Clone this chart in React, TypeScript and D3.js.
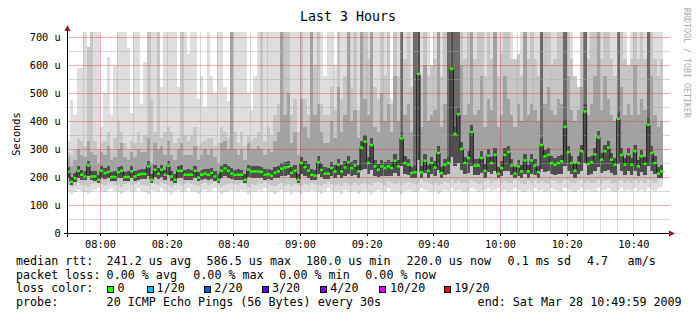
import React from "react";
import * as d3 from "d3";

// median rtt per minute (us), 07:50 .. 10:49
const med = [
  218,183,196,222,208,202,241,202,202,190,
  222,214,218,200,200,217,222,200,200,220,
  202,208,211,211,238,190,226,212,226,208,
  240,202,190,222,222,208,208,208,222,198,
  208,212,208,214,202,190,222,230,222,212,
  208,208,208,190,226,220,220,220,218,208,
  210,205,215,220,230,234,236,215,222,190,
  250,235,223,208,205,253,225,212,212,232,
  220,244,220,234,253,232,241,220,305,326,
  250,314,238,226,238,232,238,232,258,238,
  338,250,244,214,217,568,217,258,222,250,
  234,286,214,244,250,586,354,424,300,250,
  268,360,241,241,268,222,276,250,279,212,
  232,279,289,241,212,238,220,259,220,259,
  241,217,314,274,279,250,244,250,256,379,
  289,250,222,250,292,434,247,253,281,341,
  262,292,305,262,244,408,279,244,281,244,
  292,238,274,247,387,286,250,212,220,
];
// smoke: lowest ping
const lo = [
  150,140,145,155,150,145,140,150,155,160,
  150,145,155,160,150,145,140,150,155,145,
  150,160,150,145,140,155,150,145,160,150,
  145,140,150,155,145,150,160,150,145,140,
  150,155,145,150,160,150,140,145,150,155,
  150,145,155,150,140,150,145,155,150,160,
  150,145,140,150,155,145,150,140,150,145,
  140,150,145,155,150,145,140,150,160,150,
  145,150,140,155,150,145,150,140,145,150,
  145,140,150,155,150,145,160,150,145,150,
  140,150,155,150,145,150,160,155,150,145,
  150,140,145,155,150,160,150,155,150,145,
  150,160,155,145,150,155,160,150,155,160,
  150,155,145,150,160,155,150,145,155,150,
  160,150,155,145,150,160,155,150,145,160,
  155,150,145,155,160,150,155,150,145,160,
  150,155,160,150,145,155,160,150,155,150,
  160,150,155,150,160,155,150,160,165,
];
// smoke: lower outer band
const dn = [
  172,165,168,178,172,170,165,175,178,180,
  175,170,178,182,172,170,165,175,178,170,
  175,182,172,170,168,178,175,170,182,175,
  170,165,172,178,170,175,182,175,170,168,
  175,178,170,175,182,172,165,170,175,178,
  175,170,178,175,165,175,170,178,175,182,
  175,170,168,175,178,170,175,168,175,170,
  168,175,170,178,175,170,168,175,182,175,
  170,175,168,178,175,172,178,170,175,180,
  175,170,178,182,178,172,185,178,175,178,
  170,178,182,178,175,178,188,182,178,175,
  180,172,175,182,178,188,180,185,180,178,
  180,188,182,175,180,185,188,180,185,188,
  180,185,178,180,188,185,180,175,185,180,
  188,180,185,178,180,188,185,180,178,188,
  185,180,178,185,188,180,185,180,178,188,
  180,185,188,180,178,185,188,180,185,180,
  188,180,185,180,188,185,180,188,192,
];
// smoke: bottom of dark core
const q1 = [
  195,172,182,198,190,188,205,188,186,178,
  198,192,195,185,184,195,198,186,185,196,
  186,190,192,192,205,178,200,192,200,190,
  208,186,178,198,198,190,190,190,198,184,
  190,192,190,194,186,178,198,202,198,192,
  190,190,190,178,200,196,196,196,195,190,
  192,188,195,196,202,204,206,195,198,178,
  212,205,198,190,188,212,200,192,192,202,
  196,208,196,204,212,202,206,196,225,230,
  210,225,204,200,204,202,204,202,214,204,
  240,210,208,195,196,260,196,214,198,210,
  204,225,195,208,210,270,240,250,225,210,
  215,240,206,206,215,198,218,210,220,195,
  202,220,222,206,195,204,198,212,198,212,
  206,196,230,218,220,210,208,210,212,240,
  222,210,198,210,222,250,208,212,220,235,
  214,222,225,214,208,245,220,208,220,208,
  222,204,218,208,240,222,210,195,198,
];
// smoke: top of dark core
const q3 = [
  236,200,214,240,226,222,258,220,222,208,
  240,232,238,218,220,236,240,218,220,238,
  222,226,230,230,256,210,244,232,244,226,
  258,222,210,240,242,226,228,226,240,218,
  226,230,228,232,222,210,240,248,240,232,
  226,228,226,210,244,238,240,238,236,228,
  230,225,235,240,250,254,256,235,242,212,
  272,256,245,230,226,275,246,234,232,254,
  242,266,242,256,276,254,262,242,330,350,
  272,338,260,248,262,254,260,254,282,260,
  362,274,266,236,240,720,240,282,244,272,
  256,310,236,266,272,720,380,450,325,272,
  292,385,264,264,292,246,300,272,302,236,
  256,302,312,264,236,260,244,282,244,282,
  264,240,338,298,302,274,268,274,280,405,
  312,274,246,274,316,460,270,276,304,365,
  286,316,330,286,268,432,302,268,304,268,
  316,262,298,270,412,310,274,236,244,
];
// smoke: top of dark streak above the core
const dk = [
  236,200,214,240,226,222,258,220,222,208,
  240,232,238,218,220,236,240,218,220,238,
  222,226,230,230,256,210,244,232,244,226,
  258,222,210,240,242,226,228,226,240,218,
  226,230,228,232,222,210,240,248,240,232,
  226,228,226,210,244,238,240,238,236,228,
  230,225,235,240,250,254,256,235,242,212,
  272,256,245,230,226,275,246,234,232,254,
  242,266,242,256,276,254,262,242,330,350,
  272,338,260,248,262,254,260,254,282,260,
  720,274,266,236,720,720,240,282,244,272,
  256,310,236,266,720,720,720,720,325,272,
  292,385,264,264,292,246,300,272,302,236,
  256,302,312,264,236,260,244,282,244,282,
  264,240,720,298,302,274,268,274,280,720,
  312,274,246,274,316,720,270,276,304,365,
  286,316,330,286,268,720,302,268,304,268,
  316,262,298,270,720,310,274,236,244,
];
// smoke: top of middle band
const mid = [
  270,240,260,300,280,270,330,290,280,250,
  290,280,310,260,270,300,320,270,260,290,
  270,300,290,290,340,250,320,300,310,280,
  330,280,260,300,320,280,280,280,310,260,
  280,300,280,300,270,250,320,330,300,720,
  300,280,300,260,320,300,300,310,300,280,
  300,290,330,360,720,420,500,320,360,280,
  480,380,340,720,420,460,360,320,320,400,
  340,520,360,420,720,400,440,340,720,480,
  420,720,380,360,500,400,460,360,560,400,
  720,420,460,360,720,720,380,600,400,420,
  440,720,380,460,720,720,720,720,600,420,
  460,720,420,440,560,380,480,440,720,380,
  420,560,480,420,380,460,400,720,420,460,
  440,400,720,460,520,440,420,480,460,720,
  560,440,400,440,520,720,420,460,560,720,
  440,560,480,420,400,720,520,420,460,420,
  600,420,480,440,720,560,420,380,400,
];
// smoke: upper outer band
const up = [
  290,280,300,340,330,310,665,720,330,300,
  320,330,360,300,340,400,360,320,300,330,
  320,360,320,350,720,480,360,720,340,360,
  380,360,320,340,720,350,330,350,380,310,
  320,330,340,340,310,320,380,360,340,720,
  360,320,360,310,350,330,340,360,720,330,
  380,350,420,460,720,720,720,420,480,360,
  720,480,420,720,600,720,460,420,420,520,
  440,720,480,560,720,520,720,440,720,720,
  620,720,520,480,720,560,720,460,720,560,
  720,620,720,520,720,720,560,720,560,600,
  620,720,560,720,720,720,720,720,720,620,
  720,720,620,720,720,560,720,620,720,560,
  640,720,720,620,620,640,560,720,620,720,
  620,560,720,720,720,600,620,720,720,720,
  720,620,560,520,720,720,620,720,720,720,
  620,720,720,620,560,720,720,620,600,620,
  720,620,720,620,720,720,620,560,620,
];
// smoke: highest ping
const hi = [
  330,475,420,590,590,720,665,720,720,720,
  380,500,630,420,595,720,720,720,660,430,
  720,720,460,610,720,720,720,720,520,720,
  720,720,720,520,720,720,640,720,720,480,
  560,450,720,560,500,720,720,520,470,720,
  720,720,720,720,500,440,560,720,720,720,
  720,720,720,720,720,720,720,720,720,720,
  720,720,720,720,720,720,720,560,720,720,
  600,720,720,720,720,720,720,720,720,720,
  720,720,720,720,720,720,720,480,720,720,
  720,720,720,720,720,720,720,720,720,600,
  720,720,720,720,720,720,720,720,720,720,
  720,720,720,720,720,720,720,720,720,720,
  720,720,720,720,620,640,720,720,720,720,
  720,720,720,720,720,720,720,720,720,720,
  720,720,560,520,720,720,720,720,720,720,
  720,720,720,720,720,720,720,720,600,720,
  720,720,720,720,720,720,720,720,720,
];

const title = "Last 3 Hours";
const yAxisTitle = "Seconds";
const watermark = "RRDTOOL / TOBI OETIKER";
const xTickLabels = ["08:00", "08:20", "08:40", "09:00", "09:20", "09:40", "10:00", "10:20", "10:40"];
const yTickValues = [0, 100, 200, 300, 400, 500, 600, 700];
const yTickLabels = ["0", "100 u", "200 u", "300 u", "400 u", "500 u", "600 u", "700 u"];
const rttLegend = ["median rtt:", "241.2 us avg", "586.5 us max", "180.0 us min", "220.0 us now", "0.1 ms sd", "4.7", "am/s"];
const lossLegend = ["packet loss:", "0.00 % avg", "0.00 % max", "0.00 % min", "0.00 % now"];
const lossColorTitle = "loss color:";
const lossLabels = ["0", "1/20", "2/20", "3/20", "4/20", "10/20", "19/20"];
const lossColors = ["#26ff00", "#00b8ff", "#0059ff", "#5e00ff", "#7e00ff", "#dd00ff", "#ff0000"];
const probeLegend = ["probe:", "20 ICMP Echo Pings (56 Bytes) every 30s", "end: Sat Mar 28 10:49:59 2009"];

const FONT = "DejaVu Sans Mono, monospace";

export default function App() {
  const W = 697, H = 321;
  const day = (h: number, m: number) => new Date(2009, 2, 28, h, m);
  const t0 = day(7, 50), t1 = day(10, 50);
  const x = d3.scaleTime().domain([t0, t1]).range([66.67, 666.67]);
  const y = d3.scaleLinear().domain([0, 700]).range([233, 37]);
  const times = med.map((_, i) => d3.timeMinute.offset(t0, i));
  const xs = (i: number) => x(d3.timeMinute.offset(t0, i));

  const bands: [number[], number[], string][] = [
    [lo, hi, "#dedede"],
    [dn, up, "#c6c6c6"],
    [q1, mid, "#a2a2a2"],
    [q1, dk, "#6c6c6c"],
    [q1, q3, "#4e4e4e"],
  ];

  const minorV = d3.timeMinute.every(5)!.range(d3.timeMinute.offset(t0, 1), t1).filter((d) => d.getMinutes() !== 0);
  const majorV = d3.timeHour.range(t0, t1);
  const minorH = d3.range(50, 701, 100);
  const majorH = d3.range(100, 701, 100);

  const stepLine = d3.line<number>()
    .x((_, i) => xs(i))
    .y((d) => y(d))
    .curve(d3.curveStepAfter);
  const stepData = [...med, med[med.length - 1]];

  const rttX = [16, 106.6, 206.6, 306, 406.6, 507.6, 587, 627.6];
  const lossX = [16, 106.6, 193.3, 279.3, 365.3];
  const sqX = [107.3, 146.7, 204, 261.7, 320, 379.3, 444];
  const lblX = [117.6, 156.6, 214.3, 272, 330.3, 390, 454.3];
  const probeX = [16, 106.6, 477.6];
  const lf = 11.7;

  return (
    <svg width={W} height={H} style={{ position: "absolute", left: 0, top: 0, background: "#fff" }}>
      <rect x={0} y={0} width={W} height={H} fill="#ffffff" />
      <defs>
        <clipPath id="plot">
          <rect x={67} y={32} width={600} height={201} />
        </clipPath>
      </defs>
      <g clipPath="url(#plot)" shapeRendering="crispEdges">
        {bands.map(([b, t, c], bi) => (
          <g key={bi} fill={c}>
            {times.map((tm, i) => {
              const x0 = xs(i), x1 = xs(i + 1);
              const yt = y(t[i]), yb = y(b[i]);
              if (yb - yt <= 0) return null;
              return <rect key={i} x={x0} y={yt} width={x1 - x0} height={yb - yt} />;
            })}
          </g>
        ))}
      </g>
      {/* grid */}
      <g shapeRendering="crispEdges">
        {minorH.map((v) => (
          <line key={"mh" + v} x1={67} x2={670} y1={Math.round(y(v)) + 0.5} y2={Math.round(y(v)) + 0.5} stroke="rgba(170,170,170,0.45)" />
        ))}
        {minorV.map((d, i) => (
          <line key={"mv" + i} x1={Math.round(x(d)) + 0.5} x2={Math.round(x(d)) + 0.5} y1={32} y2={233} stroke="rgba(170,170,170,0.45)" />
        ))}
        {majorH.map((v) => (
          <line key={"Mh" + v} x1={67} x2={670} y1={Math.round(y(v)) + 0.5} y2={Math.round(y(v)) + 0.5} stroke="rgba(220,50,50,0.38)" />
        ))}
        {majorV.map((d, i) => (
          <line key={"Mv" + i} x1={Math.round(x(d)) + 0.5} x2={Math.round(x(d)) + 0.5} y1={32} y2={233} stroke="rgba(220,50,50,0.38)" />
        ))}
      </g>
      {/* median */}
      <g clipPath="url(#plot)">
        <path d={stepLine(stepData) || ""} fill="none" stroke="#1a1a1a" strokeWidth={1} />
        {med.map((v, i) => (
          <rect key={i} x={xs(i)} y={y(v) - 1.25} width={xs(i + 1) - xs(i)} height={2.5} fill={lossColors[0]} />
        ))}
      </g>
      {/* axes */}
      <g shapeRendering="crispEdges">
        <line x1={64} x2={670} y1={233.5} y2={233.5} stroke="#000" />
        <line x1={67.5} x2={67.5} y1={29} y2={237} stroke="#000" />
        {xTickLabels.map((l, i) => {
          const [h, m] = l.split(":").map(Number);
          const px = Math.round(x(day(h, m))) + 0.5;
          return <line key={i} x1={px} x2={px} y1={233} y2={236} stroke="#000" />;
        })}
      </g>
      <path d="M67.5,25 L64.5,31 L70.5,31 Z" fill="#a01818" />
      <path d="M675,233.5 L669,230.5 L669,236.5 Z" fill="#a01818" />
      {/* y labels */}
      {yTickValues.map((v, i) => (
        <text key={i} x={60.7} y={y(v) + 3.7} textAnchor="end" fontFamily={FONT} fontSize={10.3} fill="#000">
          {yTickLabels[i]}
        </text>
      ))}
      {/* x labels */}
      {xTickLabels.map((l, i) => {
        const [h, m] = l.split(":").map(Number);
        return (
          <text key={i} x={x(day(h, m)) + 0.5} y={248.3} textAnchor="middle" fontFamily={FONT} fontSize={10.3} fill="#000">
            {l}
          </text>
        );
      })}
      <text x={348} y={20.5} textAnchor="middle" fontFamily={FONT} fontSize={13.3} fill="#000">{title}</text>
      <text transform="translate(20,134) rotate(-90)" textAnchor="middle" fontFamily={FONT} fontSize={10.3} fill="#000">{yAxisTitle}</text>
      <text transform="translate(683.5,8) rotate(90)" fontFamily={FONT} fontSize={8.3} fill="#aaaaaa">{watermark}</text>
      {/* legend */}
      <g fontFamily={FONT} fontSize={lf} fill="#000" style={{ whiteSpace: "pre" }}>
        {rttLegend.map((s, i) => (
          <text key={"r" + i} x={rttX[i]} y={265}>{s}</text>
        ))}
        {lossLegend.map((s, i) => (
          <text key={"l" + i} x={lossX[i]} y={278.5}>{s}</text>
        ))}
        <text x={16} y={292}>{lossColorTitle}</text>
        {lossLabels.map((s, i) => (
          <g key={"c" + i}>
            <rect x={sqX[i] + 0.5} y={286} width={6} height={6} fill={lossColors[i]} stroke="#000" strokeWidth={1} shapeRendering="crispEdges" />
            <text x={lblX[i]} y={292}>{s}</text>
          </g>
        ))}
        {probeLegend.map((s, i) => (
          <text key={"p" + i} x={probeX[i]} y={305.5}>{s}</text>
        ))}
      </g>
    </svg>
  );
}
